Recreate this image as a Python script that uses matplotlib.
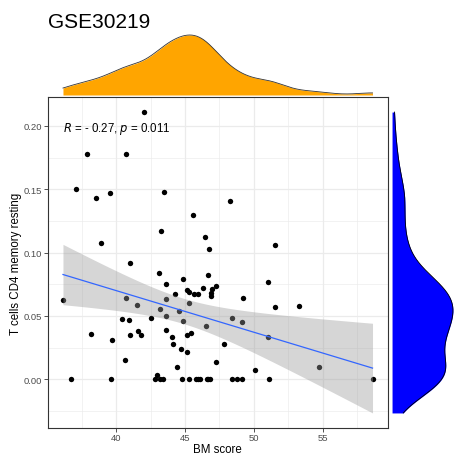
import numpy as np
import matplotlib
matplotlib.use("Agg")
import matplotlib.pyplot as plt

plt.rcParams['font.family'] = ['Liberation Sans', 'DejaVu Sans']

# BM score (x) and T cells CD4 memory resting fraction (y) per sample
bm_score = [42.05, 37.90, 40.75, 37.12, 38.53, 39.54, 43.46, 45.60, 43.28, 38.91,
            46.47, 46.73, 48.28, 51.54, 36.14, 36.74, 38.17, 39.73, 39.62, 40.41,
            40.75, 40.99, 40.94, 41.01, 40.65, 41.52, 41.57, 41.83, 42.54, 43.12,
            43.17, 43.65, 43.65, 43.60, 43.62, 44.03, 44.15, 44.30, 44.45, 44.57,
            44.73, 44.83, 44.88, 45.14, 45.14, 45.41, 45.31, 45.14, 45.28, 45.67,
            45.92, 46.30, 46.64, 46.54, 46.93, 46.90, 46.90, 47.22, 47.27, 42.83,
            43.00, 43.19, 43.38, 44.78, 45.31, 45.80, 45.94, 46.09, 46.57, 46.69,
            46.79, 51.04, 49.25, 51.52, 53.31, 48.38, 49.11, 51.04, 47.83, 50.12,
            54.71, 58.62, 48.38, 48.77, 49.11, 51.11]
cd4_resting = [0.211, 0.178, 0.178, 0.150, 0.143, 0.147, 0.148, 0.130, 0.117, 0.1075,
               0.112, 0.1025, 0.141, 0.106, 0.0623, 0.0, 0.036, 0.0313, 0.0, 0.0479,
               0.0644, 0.092, 0.0466, 0.0345, 0.0153, 0.0587, 0.0381, 0.0352, 0.0481, 0.0841,
               0.0557, 0.0752, 0.0631, 0.0497, 0.0386, 0.0331, 0.0276, 0.0673, 0.0098, 0.0539,
               0.0242, 0.0789, 0.0463, 0.0218, 0.035, 0.0368, 0.0603, 0.0707, 0.0692, 0.0673,
               0.0673, 0.0721, 0.0826, 0.0418, 0.0713, 0.0684, 0.0655, 0.0737, 0.0137, 0.0,
               0.003, 0.0, 0.0, 0.0, 0.0, 0.0, 0.0, 0.0, 0.0, 0.0,
               0.0, 0.0768, 0.0639, 0.0571, 0.0581, 0.0484, 0.0452, 0.0334, 0.0276, 0.0074,
               0.0098, 0.0, 0.0, 0.0, 0.0, 0.0]

title = "GSE30219"
cor_label = r"$R$ = - 0.27, $p$ = 0.011"
x_ticks = [40, 45, 50, 55]
y_ticks = [0.00, 0.05, 0.10, 0.15, 0.20]

W, H = 454, 456


def px_axes(fig, left, top, right, bottom):
    """Adds axes placed by pixel edges."""
    return fig.add_axes([left / W, 1 - bottom / H, (right - left) / W, (bottom - top) / H])


def density(values, grid):
    """Gaussian KDE with R's bw.nrd0 bandwidth."""
    v = np.asarray(values)
    q75, q25 = np.percentile(v, [75, 25])
    bw = 0.9 * min(v.std(ddof=1), (q75 - q25) / 1.34) * len(v) ** -0.2
    z = (grid[:, None] - v[None, :]) / bw
    return np.exp(-0.5 * z ** 2).sum(axis=1) / (len(v) * bw * np.sqrt(2 * np.pi))


x = np.array(bm_score)
y = np.array(cd4_resting)
n = len(x)

# linear fit with 95% confidence band
slope, intercept = np.polyfit(x, y, 1)
xs = np.linspace(x.min(), x.max(), 80)
fit = intercept + slope * xs
resid = y - (intercept + slope * x)
s = np.sqrt((resid ** 2).sum() / (n - 2))
se = s * np.sqrt(1 / n + (xs - x.mean()) ** 2 / ((x - x.mean()) ** 2).sum())
t_crit = 1.9886  # t(0.975, df=84)
ci_lo = fit - t_crit * se
ci_hi = fit + t_crit * se

x_lo, x_hi = x.min(), x.max()
y_lo, y_hi = min(y.min(), ci_lo.min()), max(y.max(), ci_hi.max())
xlim = (x_lo - 0.05 * (x_hi - x_lo), x_hi + 0.05 * (x_hi - x_lo))
ylim = (y_lo - 0.05 * (y_hi - y_lo), y_hi + 0.05 * (y_hi - y_lo))

fig = plt.figure(figsize=(W / 100, H / 100), dpi=100)

# main scatter panel
ax = px_axes(fig, 47.5, 98, 388, 429)
ax.scatter(x, y, s=15, color='black', linewidths=0, zorder=2)
ax.fill_between(xs, ci_lo, ci_hi, color='#999999', alpha=0.4, linewidth=0, zorder=3)
ax.plot(xs, fit, color='#3366FF', lw=0.9, zorder=4)
ax.set_xlim(xlim)
ax.set_ylim(ylim)
ax.set_xticks(x_ticks)
ax.set_yticks(y_ticks)
ax.set_yticklabels([f"{v:.2f}" for v in y_ticks])
ax.set_xticks([37.5, 42.5, 47.5, 52.5, 57.5], minor=True)
ax.set_yticks([-0.025, 0.025, 0.075, 0.125, 0.175], minor=True)
ax.grid(True, which='major', color='#EBEBEB', lw=0.9, zorder=0)
ax.grid(True, which='minor', color='#EBEBEB', lw=0.45, zorder=0)
ax.set_axisbelow(True)
ax.tick_params(which='major', direction='out', length=2.7, width=0.6, color='#333333',
               labelsize=6.8, labelcolor='#4D4D4D', pad=1.2)
ax.tick_params(which='minor', length=0)
for sp in ax.spines.values():
    sp.set_color('#333333')
    sp.set_linewidth(0.8)
ax.set_xlabel("BM score", fontsize=8.3, labelpad=0.3)
ax.set_ylabel("T cells CD4 memory resting", fontsize=8.3, labelpad=1.2)
ax.text(x_lo, 0.907, cor_label, transform=ax.get_xaxis_transform(),
        fontsize=8.3, ha='left', va='center', color='black')

# top marginal: BM score density
ax_top = px_axes(fig, 47.5, 33, 388, 99)
gx = np.linspace(x_lo, x_hi, 512)
dx = density(x, gx)
ax_top.fill_between(gx, 0, dx, color='#FFA500', linewidth=0)
ax_top.plot(gx, dx, color='#333333', lw=0.6)
ax_top.set_xlim(xlim)
ax_top.set_ylim(-0.05 * dx.max(), 1.05 * dx.max())
ax_top.axis('off')

# right marginal: CD4 memory resting density
ax_right = px_axes(fig, 389, 98, 456, 429)
gy = np.linspace(y_lo, y.max(), 512)
dy = density(y, gy)
ax_right.fill_betweenx(gy, 0, dy, color='#0000FF', linewidth=0)
ax_right.plot(dy, gy, color='black', lw=0.6)
ax_right.set_ylim(ylim)
ax_right.set_xlim(-0.05 * dy.max(), 1.05 * dy.max())
ax_right.axis('off')

fig.text(48 / W, 1 - 22 / H, title, fontsize=15, ha='left', va='center')

fig.savefig('out.png', dpi=100)
